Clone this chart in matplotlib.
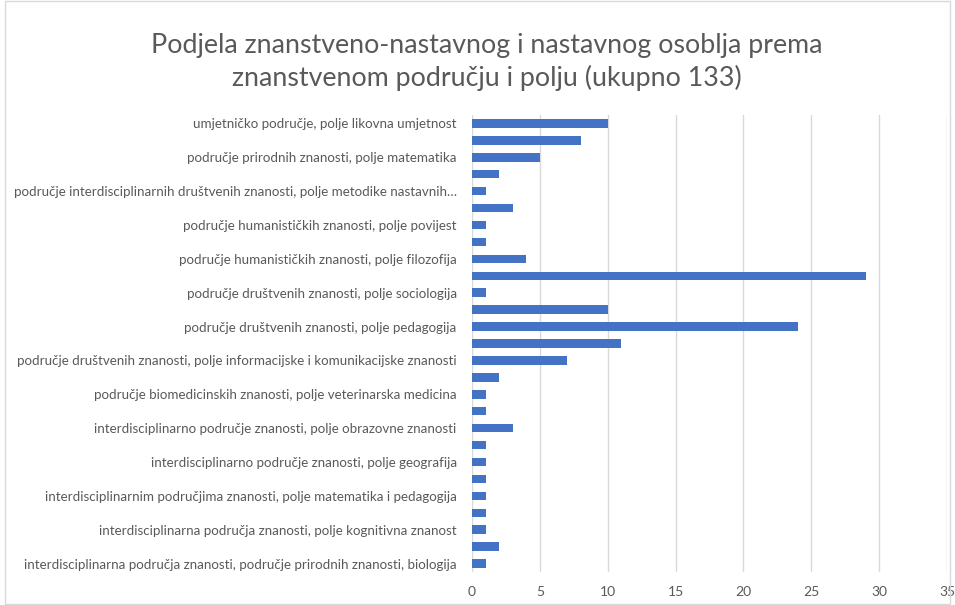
import matplotlib
matplotlib.use("Agg")
import matplotlib.pyplot as plt
from matplotlib.patches import Rectangle

title = "Podjela znanstveno-nastavnog i nastavnog osoblja prema\nznanstvenom području i polju (ukupno 133)"

values = [10, 8, 5, 2, 1, 3, 1, 1, 4, 29, 1, 10, 24, 11, 7, 2, 1, 1, 3, 1, 1, 1, 1, 1, 1, 2, 1]

tick_labels = [
    "umjetničko područje, polje likovna umjetnost",
    "područje prirodnih znanosti, polje matematika",
    "područje interdisciplinarnih društvenih znanosti, polje metodike nastavnih…",
    "područje humanističkih znanosti, polje povijest",
    "područje humanističkih znanosti, polje filozofija",
    "područje društvenih znanosti, polje sociologija",
    "područje društvenih znanosti, polje pedagogija",
    "područje društvenih znanosti, polje informacijske i komunikacijske znanosti",
    "područje biomedicinskih znanosti, polje veterinarska medicina",
    "interdisciplinarno područje znanosti, polje obrazovne znanosti",
    "interdisciplinarno područje znanosti, polje geografija",
    "interdisciplinarnim područjima znanosti, polje matematika i pedagogija",
    "interdisciplinarna područja znanosti, polje kognitivna znanost",
    "interdisciplinarna područja znanosti, područje prirodnih znanosti, biologija",
]

x_ticks = [0, 5, 10, 15, 20, 25, 30, 35]

plt.rcParams['font.family'] = ['Lato', 'DejaVu Sans']
txt = '#595959'

fig = plt.figure(figsize=(9.55, 6.05), dpi=100)
ax = fig.add_axes([472/955, 1-572/605, (947-472)/955, (572-115)/605])

n = len(values)
ypos = list(range(n))
ax.barh(ypos, values, height=0.5, color='#4472C4', zorder=3)
ax.set_ylim(n - 0.5, -0.5)
ax.set_xlim(0, 35)
ax.set_xticks(x_ticks)
ax.set_xticklabels([str(t) for t in x_ticks], color=txt, fontsize=10)
ax.set_yticks(ypos[::2])
ax.set_yticklabels(tick_labels, color=txt, fontsize=9.6)
ax.tick_params(axis='both', length=0)
ax.tick_params(axis='y', pad=11)
ax.tick_params(axis='x', pad=10)
ax.grid(axis='x', color='#d9d9d9', linewidth=1, zorder=0)
for s in ax.spines.values():
    s.set_visible(False)

fig.text(487/955, 1-62/605, title, ha='center', va='center', fontsize=19.3,
         color=txt, fontweight='normal', linespacing=1.3)

fig.patches.append(Rectangle((5/955, 0.002), 1-10/955, 0.996, transform=fig.transFigure,
                             fill=False, edgecolor='#d9d9d9', linewidth=1))

fig.savefig('out.png', dpi=100, facecolor='white')
